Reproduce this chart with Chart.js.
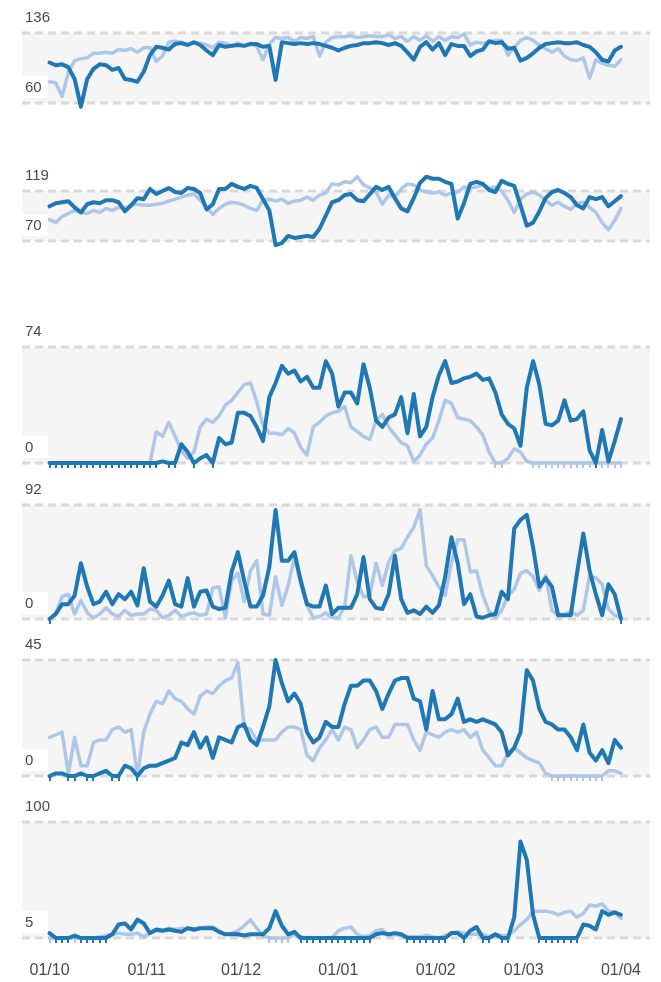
<!DOCTYPE html>
<html>
<head>
<meta charset="utf-8">
<script src="https://cdn.jsdelivr.net/npm/chart.js@4.4.0/dist/chart.umd.min.js"></script>
<style>
  html, body { margin: 0; padding: 0; background: #ffffff; }
  #wrap { position: relative; width: 661px; height: 982px; }
</style>
</head>
<body>
<div id="wrap"><canvas id="chart" width="661" height="982"></canvas></div>
<script>
// One value every 2 days, 1 Oct to 1 Apr
const DAY_STEP = 2;
const monthTicks = [0, 31, 61, 92, 123, 151, 182];
const monthLabels = ['01/10', '01/11', '01/12', '01/01', '01/02', '01/03', '01/04'];

// Upper and lower reference value of each panel
const panelTop = [136, 119, 74, 92, 45, 100];
const panelBottom = [60, 70, 0, 0, 0, 5];

const panel1Dark = [104,101,102,99,86,56,86,97,102,101,96,98,86,85,83,94,112,121,120,118,124,125,123,126,123,117,112,123,121,122,123,122,124,124,121,122,85,126,125,124,125,124,125,124,122,120,117,120,122,123,125,125,126,125,123,125,122,115,107,121,126,118,125,112,124,122,122,111,116,118,127,125,126,119,120,106,109,114,120,124,125,126,125,125,126,123,121,115,107,105,117,121];
const panel1Light = [83,82,67,93,106,108,109,114,114,115,114,118,117,119,115,120,120,105,111,126,127,126,123,126,125,123,120,126,125,122,125,122,125,121,107,124,131,130,131,127,131,130,132,111,126,131,132,132,133,131,132,133,132,132,134,130,132,127,132,128,133,127,132,128,132,131,135,123,126,125,126,128,128,112,120,128,131,128,123,119,115,119,111,107,106,109,87,107,103,101,100,107];

const panel2Dark = [104,107,108,109,103,98,106,108,107,110,110,108,99,105,112,111,121,116,119,122,118,117,122,121,117,101,106,121,121,126,123,121,124,122,111,100,66,68,75,73,74,75,74,82,95,108,110,115,116,110,109,116,123,120,123,112,102,99,112,127,133,131,131,128,126,92,107,126,128,126,120,118,129,126,124,105,85,88,99,112,118,120,117,113,105,102,113,111,113,104,109,114];
const panel2Light = [91,88,94,97,100,98,97,100,98,102,100,103,102,105,106,105,105,106,107,109,111,113,115,116,110,103,96,102,106,108,107,105,102,100,110,111,109,111,107,109,110,113,110,115,117,126,125,128,127,133,125,122,118,106,115,113,121,126,125,120,118,117,118,115,117,118,123,122,123,125,122,123,119,110,98,111,116,118,115,110,105,108,104,101,107,108,103,98,88,81,90,102];

const panel3Dark = [0,0,0,0,0,0,0,0,0,0,0,0,0,0,0,0,0,0,1,0,0,12,7,0,3,5,0,16,12,13,32,32,30,23,14,42,51,62,57,59,52,55,48,48,65,57,36,45,45,38,63,48,27,23,29,31,42,19,44,17,23,42,56,65,51,52,54,55,57,53,54,45,31,25,22,11,48,65,50,25,24,27,40,27,28,33,8,0,21,1,14,28];
const panel3Light = [0,0,0,0,0,0,0,0,0,0,0,0,0,0,0,0,0,20,17,26,17,8,3,7,23,28,26,30,37,40,45,50,51,39,24,19,19,18,22,19,10,5,23,26,30,32,33,36,23,20,17,15,27,31,23,18,13,11,1,5,12,16,27,40,38,29,28,27,23,18,7,0,0,3,9,7,1,0,0,0,0,0,0,0,0,0,0,0,0,0,0,0];

const panel4Dark = [0,4,12,12,19,45,26,12,14,22,12,20,16,22,11,41,14,10,19,31,12,10,33,10,22,23,10,8,9,38,54,31,10,10,19,42,88,47,47,54,31,12,10,10,27,4,9,9,9,20,50,16,9,8,20,51,16,5,7,4,10,5,11,34,66,45,12,20,2,1,3,4,22,16,73,80,84,58,26,33,26,3,3,3,37,69,39,20,3,28,20,0];
const panel4Light = [0,5,18,20,4,15,5,1,4,9,4,2,7,3,4,4,8,7,1,3,7,2,4,5,3,4,25,26,1,31,37,14,39,47,4,3,34,11,27,50,28,11,1,2,5,1,1,10,51,30,18,19,45,27,46,55,57,66,74,88,43,35,26,19,45,64,64,38,39,19,6,1,7,19,24,37,39,34,23,35,7,3,4,6,3,7,35,33,28,8,3,1];

const panel5Dark = [0,1,1,0,0,1,0,0,1,2,0,0,4,3,0,3,4,4,5,6,7,13,12,17,11,15,7,15,14,13,19,20,14,12,19,27,45,36,29,32,28,17,13,15,21,19,19,28,35,35,37,37,33,26,32,37,38,38,30,29,18,33,22,22,24,30,21,22,21,22,21,20,17,8,11,17,41,37,26,21,20,18,18,15,10,20,9,6,10,5,14,11];
const panel5Light = [15,16,17,1,15,4,4,13,14,14,18,19,17,18,0,17,24,29,28,33,30,29,26,24,31,33,32,35,37,38,44,19,18,14,14,14,14,17,19,19,18,8,6,11,14,18,14,19,18,11,14,18,19,15,15,20,20,20,14,10,17,16,15,17,18,17,18,15,17,10,7,4,4,9,11,9,7,6,5,1,0,0,0,0,0,0,0,0,0,2,2,1];

const panel6Dark = [9,5,5,5,7,5,5,5,5,5,8,16,17,12,20,17,9,12,11,12,11,10,13,12,13,13,13,10,8,8,8,7,8,8,8,13,27,15,8,10,5,5,5,5,5,5,5,5,5,5,5,5,8,9,8,9,8,5,5,5,5,5,5,5,9,9,5,11,14,5,5,8,5,5,22,84,69,24,5,5,5,5,5,5,5,16,15,12,27,24,26,24];
const panel6Light = [5,5,5,5,5,5,5,5,6,7,8,9,8,8,9,6,9,11,11,13,12,13,13,11,13,14,14,11,8,9,11,15,20,13,7,5,5,5,5,8,6,5,5,5,5,5,11,13,14,8,6,7,11,12,7,8,7,6,6,6,7,6,5,7,9,10,9,8,8,8,6,8,7,7,11,16,20,27,27,27,26,24,26,27,22,25,32,31,33,27,26,21];

const darkSeries = [panel1Dark, panel2Dark, panel3Dark, panel4Dark, panel5Dark, panel6Dark];
const lightSeries = [panel1Light, panel2Light, panel3Light, panel4Light, panel5Light, panel6Light];

// Vertical pixel extent of each grey band (top line, bottom line)
const bandLayout = [[33, 103], [191, 241], [347, 463], [505, 619], [660, 776], [822, 938]];

const DARK = '#1f77b4';
const LIGHT = '#aec7e8';
const LABEL_FONT = '15px "Liberation Sans", Arial, sans-serif';

// Small downward tick marking days that sit on the panel floor
function floorTick(color) {
  const c = document.createElement('canvas');
  c.width = 2; c.height = 10;
  const g = c.getContext('2d');
  g.fillStyle = color;
  g.fillRect(0, 5, 2, 5);
  return c;
}
const darkTick = floorTick(DARK);
const lightTick = floorTick(LIGHT);

function toPoints(arr) {
  return arr.map((v, i) => ({ x: i * DAY_STEP, y: v }));
}

const datasets = [];
const scales = {
  x: {
    type: 'linear',
    min: -8.76,
    max: 191.24,
    grid: { display: false, drawTicks: false },
    border: { display: false },
    afterBuildTicks: axis => { axis.ticks = monthTicks.map(v => ({ value: v })); },
    ticks: {
      autoSkip: false,
      maxRotation: 0,
      padding: 2,
      color: '#4a4a4a',
      font: { family: '"Liberation Sans", Arial, sans-serif', size: 16 },
      callback: v => monthLabels[monthTicks.indexOf(v)]
    }
  }
};

darkSeries.forEach((arr, p) => {
  const yId = 'y' + p;
  scales[yId] = { type: 'linear', display: false };
  const floor = panelBottom[p];
  const onFloor = ctx => (ctx.parsed && ctx.parsed.y === floor && p >= 2 ? 2 : 0);
  datasets.push({
    label: 'dark ' + (p + 1),
    data: toPoints(arr),
    yAxisID: yId,
    borderColor: DARK,
    borderWidth: 4,
    order: 0,
    pointStyle: darkTick,
    pointRadius: onFloor,
    clip: false
  });
  datasets.push({
    label: 'light ' + (p + 1),
    data: toPoints(lightSeries[p]),
    yAxisID: yId,
    borderColor: LIGHT,
    borderWidth: 3.5,
    order: 1,
    pointStyle: lightTick,
    pointRadius: onFloor,
    clip: false
  });
});

// Fit each hidden y axis so that the panel's reference values fall on its band lines
const bandScales = {
  id: 'bandScales',
  afterLayout(chart) {
    bandLayout.forEach((b, p) => {
      const s = chart.scales['y' + p];
      const perPx = (panelTop[p] - panelBottom[p]) / (b[1] - b[0]);
      s.max = panelTop[p] + (b[0] - s.top) * perPx;
      s.min = panelBottom[p] - (s.bottom - b[1]) * perPx;
      s.configure();
    });
  }
};

// Grey bands, dashed reference lines and their value labels
const bandDecor = {
  id: 'bandDecor',
  beforeDatasetsDraw(chart) {
    const ctx = chart.ctx;
    const area = chart.chartArea;
    ctx.save();
    panelTop.forEach((top, p) => {
      const s = chart.scales['y' + p];
      const yTop = s.getPixelForValue(top);
      const yBot = s.getPixelForValue(panelBottom[p]);
      ctx.fillStyle = '#f5f5f5';
      ctx.fillRect(area.left, yTop, area.right - area.left, yBot - yTop);

      ctx.strokeStyle = '#d9d9d9';
      ctx.lineWidth = 3;
      ctx.setLineDash([8, 5]);
      [yTop, yBot].forEach(y => {
        ctx.beginPath();
        ctx.moveTo(area.left, y);
        ctx.lineTo(area.right, y);
        ctx.stroke();
      });
      ctx.setLineDash([]);

      ctx.font = LABEL_FONT;
      ctx.textBaseline = 'alphabetic';
      ctx.textAlign = 'left';
      [[top, yTop], [panelBottom[p], yBot]].forEach(([val, y]) => {
        const txt = String(val);
        const w = Math.max(26, ctx.measureText(txt).width + 6);
        const base = y - 11;
        ctx.fillStyle = '#ffffff';
        ctx.fillRect(area.left, base - 16, w, 22);
        ctx.fillStyle = '#4a4a4a';
        ctx.fillText(txt, area.left + 3, base);
      });
    });
    ctx.restore();
  }
};

new Chart(document.getElementById('chart'), {
  type: 'line',
  data: { datasets },
  options: {
    responsive: false,
    animation: false,
    events: [],
    layout: { padding: { left: 22, right: 11, top: 0, bottom: 0 } },
    elements: {
      line: { tension: 0, borderJoinStyle: 'round', borderCapStyle: 'round' }
    },
    plugins: { legend: { display: false }, tooltip: { enabled: false } },
    scales
  },
  plugins: [bandScales, bandDecor]
});
</script>
</body>
</html>
